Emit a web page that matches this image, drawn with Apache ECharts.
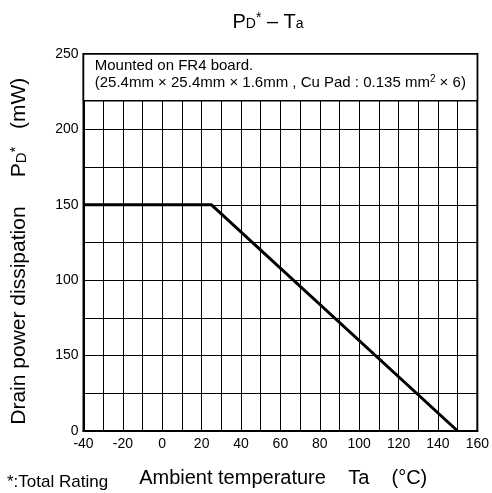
<!DOCTYPE html>
<html><head><meta charset="utf-8">
<script src="https://cdn.jsdelivr.net/npm/echarts@6/dist/echarts.min.js"></script>
<style>html,body{margin:0;padding:0;background:#fff}#c{width:492px;height:493px}</style>
</head><body><div id="c"></div>
<script>
const tempC = [-40, 25, 150];
const powerMW = [150, 150, 0];
const yTickLabels = {0:'0', 50:'150', 100:'100', 150:'150', 200:'200', 250:'250'};
const noteBox = [[-40, 219], [160, 250]];
const FONT = "'Liberation Sans', Arial, sans-serif";

const chart = echarts.init(document.getElementById('c'));
chart.setOption({
  animation: false,
  title: {
    text: '{p|P}{sub|D}{sup|*}{p| – T}{sub|a}',
    left: 263, top: 5, textAlign: 'center',
    textStyle: {
      fontFamily: FONT, color: '#000', fontWeight: 'normal',
      rich: {
        p: {fontSize: 20, fontFamily: FONT, color: '#000', lineHeight: 24, fontWeight: 'normal'},
        sub: {fontSize: 14, fontFamily: FONT, color: '#000', padding: [5, 0, 0, 0], lineHeight: 24, fontWeight: 'normal'},
        sup: {fontSize: 14, fontFamily: FONT, color: '#000', padding: [0, 0, 8, 0], lineHeight: 24, fontWeight: 'normal'}
      }
    }
  },
  grid: {left: 83, right: 7, top: 54, bottom: 60, show: true, borderColor: '#000', borderWidth: 2, backgroundColor: '#fff'},
  xAxis: {
    type: 'value', min: -40, max: 160, interval: 10,
    axisLine: {show: true, onZero: false, lineStyle: {color: '#000', width: 2}},
    axisTick: {show: false},
    splitLine: {show: true, lineStyle: {color: '#000', width: 1}},
    axisLabel: {
      margin: 6, color: '#000', fontSize: 14, fontFamily: FONT,
      formatter: v => (v % 20 === 0 ? String(v) : '')
    },
    name: ' Ambient temperature    Ta    (°C)',
    nameLocation: 'middle', nameGap: 37,
    nameTextStyle: {fontSize: 20, color: '#000', fontFamily: FONT}
  },
  yAxis: {
    type: 'value', min: 0, max: 250, interval: 25,
    axisLine: {show: true, onZero: false, lineStyle: {color: '#000', width: 2}},
    axisTick: {show: false},
    splitLine: {show: true, lineStyle: {color: '#000', width: 1}},
    axisLabel: {
      margin: 5, color: '#000', fontSize: 14, fontFamily: FONT,
      formatter: v => (yTickLabels[v] !== undefined ? yTickLabels[v] : '')
    },
    name: '{p|Drain power dissipation     P}{sub|D}{sup|*}{p|   (mW)   }',
    nameLocation: 'middle', nameGap: 51, nameRotate: 90,
    nameTextStyle: {
      fontFamily: FONT, color: '#000',
      rich: {
        p: {fontSize: 21, fontFamily: FONT, color: '#000', lineHeight: 26},
        sub: {fontSize: 15, fontFamily: FONT, color: '#000', padding: [5, 0, 0, 0], lineHeight: 26},
        sup: {fontSize: 15, fontFamily: FONT, color: '#000', padding: [0, 0, 8, 0], lineHeight: 26}
      }
    }
  },
  series: [{
    type: 'line',
    data: tempC.map((t, i) => [t, powerMW[i]]),
    symbol: 'none',
    lineStyle: {color: '#000', width: 3},
    markArea: {
      silent: true,
      itemStyle: {color: '#fff', borderColor: '#000', borderWidth: 1.5},
      label: {
        show: true, position: 'insideTopLeft', offset: [7, -1],
        formatter: 'Mounted on FR4 board.\n(25.4mm × 25.4mm × 1.6mm , Cu Pad : 0.135 mm{sup|2} × 6)',
        color: '#000', fontSize: 15, fontFamily: FONT, lineHeight: 17,
        rich: {sup: {fontSize: 10, fontFamily: FONT, color: '#000', padding: [0, 0, 7, 0]}}
      },
      data: [[{coord: noteBox[0]}, {coord: noteBox[1]}]]
    }
  }],
  graphic: [{
    type: 'text', left: 7, top: 474,
    style: {text: '*:Total Rating', fontSize: 17, fontFamily: FONT, fill: '#000'}
  }]
});
</script></body></html>
